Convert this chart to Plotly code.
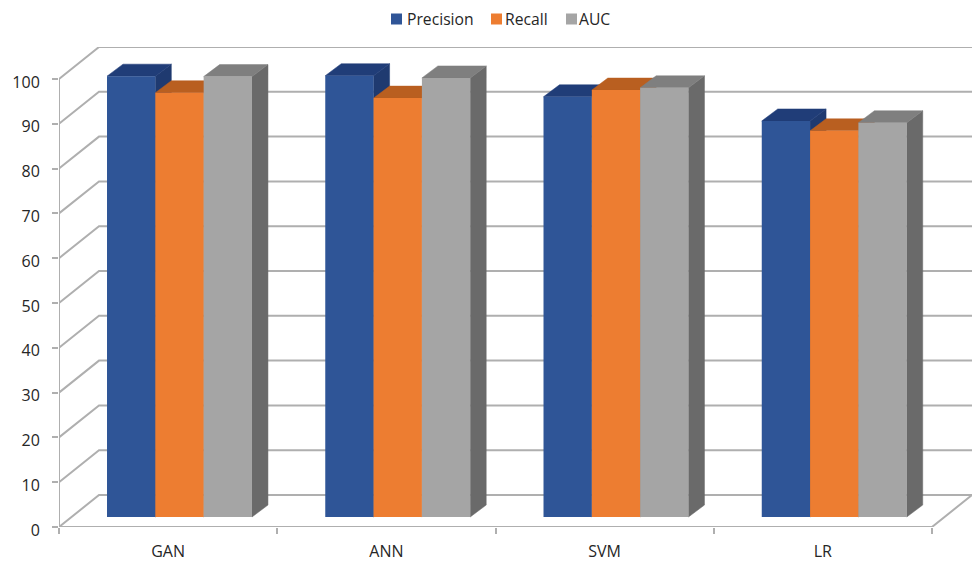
import plotly.graph_objects as go

# Chart data
models = ["GAN", "ANN", "SVM", "LR"]
precision = [98.4, 98.5, 93.8, 88.4]
recall = [94.7, 93.5, 95.3, 86.2]
auc = [98.3, 98.0, 95.8, 88.0]
y_ticks = list(range(0, 101, 10))

# Series styling: name, values, front, top and side colours
series = [
    ("Precision", precision, "#2F5597", "#203D78", "#1F3A70"),
    ("Recall", recall, "#ED7D31", "#B95F20", "#B55C1E"),
    ("AUC", auc, "#A5A5A5", "#7F7F7F", "#6A6A6A"),
]

# Pseudo-3D projection, in axis units
WALL_DX, WALL_DY = 0.1833, 7.14   # depth of the chart floor
BAR_DX, BAR_DY = 0.0733, 2.68     # depth of each column
BAR_LIFT = 2.23                   # columns stand part-way back on the floor
BAR_START = 0.22                  # left edge of first column inside its category
BAR_W = 0.2214
GRID = "#AFAFAF"
FONT = "Open Sans"
TEXT = "#262626"
n = len(models)

WIDTH, HEIGHT = 976, 564
# Key layout: left edge of each swatch and of each label, in pixels
KEY_SWATCH_X = [391, 491, 566]
KEY_TEXT_X = [407, 505, 579]
KEY_Y = 19
KEY_SWATCH = 11

fig = go.Figure()


def add_lines(xs, ys):
    fig.add_trace(go.Scatter(
        x=xs, y=ys, mode="lines", cliponaxis=False, showlegend=False,
        hoverinfo="skip", line=dict(color=GRID, width=2),
    ))


def add_face(xs, ys, color):
    fig.add_trace(go.Scatter(
        x=xs, y=ys, mode="lines", fill="toself", fillcolor=color,
        line=dict(color=color, width=0.5), cliponaxis=False,
        showlegend=False, hoverinfo="skip",
    ))


# Side wall and back wall gridlines
gx, gy = [], []
for v in y_ticks:
    gx += [0, WALL_DX, n + WALL_DX, None]
    gy += [v, v + WALL_DY, v + WALL_DY, None]
add_lines(gx, gy)

# Axis lines and the right edge of the floor
add_lines([0, 0, None, 0, n, n + WALL_DX],
          [100, 0, None, 0, 0, WALL_DY])

# Top and side faces of the columns
for c in range(n):
    for s, (_, vals, _front, top, side) in enumerate(series):
        x0 = c + BAR_START + s * BAR_W
        x1 = x0 + BAR_W
        y1 = BAR_LIFT + vals[c]
        add_face([x1, x1 + BAR_DX, x1 + BAR_DX, x1, x1],
                 [BAR_LIFT, BAR_LIFT + BAR_DY, y1 + BAR_DY, y1, BAR_LIFT], side)
        add_face([x0, x0 + BAR_DX, x1 + BAR_DX, x1, x0],
                 [y1, y1 + BAR_DY, y1 + BAR_DY, y1, y1], top)

# Front faces, on an overlaid pair of axes so they paint above the depth faces
for s, (name, vals, front, _top, _side) in enumerate(series):
    fig.add_trace(go.Bar(
        name=name, x=[c + BAR_START + s * BAR_W for c in range(n)], y=vals,
        base=BAR_LIFT, width=BAR_W, offset=0,
        marker=dict(color=front, line=dict(width=0)),
        xaxis="x2", yaxis="y2", showlegend=False,
    ))

# Compact key above the plot, with tighter swatch spacing than the built-in legend
key_shapes, key_labels = [], []
for s, (name, _vals, front, _top, _side) in enumerate(series):
    key_shapes.append(dict(
        type="rect", xref="paper", yref="paper", line=dict(width=0), fillcolor=front,
        x0=(KEY_SWATCH_X[s] - 59) / (WIDTH - 63),
        x1=(KEY_SWATCH_X[s] + KEY_SWATCH - 59) / (WIDTH - 63),
        y0=(527 - KEY_Y - KEY_SWATCH / 2) / 480,
        y1=(527 - KEY_Y + KEY_SWATCH / 2) / 480,
    ))
    key_labels.append(dict(
        text=name, showarrow=False, xref="paper", yref="paper",
        x=(KEY_TEXT_X[s] - 59) / (WIDTH - 63), xanchor="left",
        y=(527 - KEY_Y) / 480, yanchor="middle", xshift=-2,
        font=dict(size=15.7, family=FONT, color=TEXT),
    ))

x_range = [0, n + WALL_DX]
y_range = [0, 100 + WALL_DY]

fig.update_layout(
    width=WIDTH, height=HEIGHT, autosize=False,
    margin=dict(l=59, r=4, t=47, b=37, autoexpand=False),
    paper_bgcolor="white", plot_bgcolor="white",
    barmode="overlay", showlegend=False,
    font=dict(family=FONT, color=TEXT),
    shapes=key_shapes, annotations=key_labels,
    xaxis=dict(
        range=x_range, showgrid=False, zeroline=False, showline=False,
        tickmode="array", tickvals=[c + 0.5 for c in range(n)], ticktext=models,
        ticks="", ticklabelstandoff=13, tickfont=dict(size=16, family=FONT),
        minor=dict(tickmode="array", tickvals=list(range(n + 1)), ticks="outside",
                   ticklen=6, tickwidth=2, tickcolor=GRID, showgrid=False),
    ),
    yaxis=dict(
        range=y_range, showgrid=False, zeroline=False, showline=False,
        tickmode="array", tickvals=y_ticks, ticks="outside", ticklen=6,
        tickwidth=2, tickcolor=GRID, ticklabelstandoff=9, ticklabelshift=3,
        tickfont=dict(size=16, family=FONT),
    ),
    xaxis2=dict(range=x_range, overlaying="x", visible=False),
    yaxis2=dict(range=y_range, overlaying="y", visible=False),
)

fig.write_html("out.html")
